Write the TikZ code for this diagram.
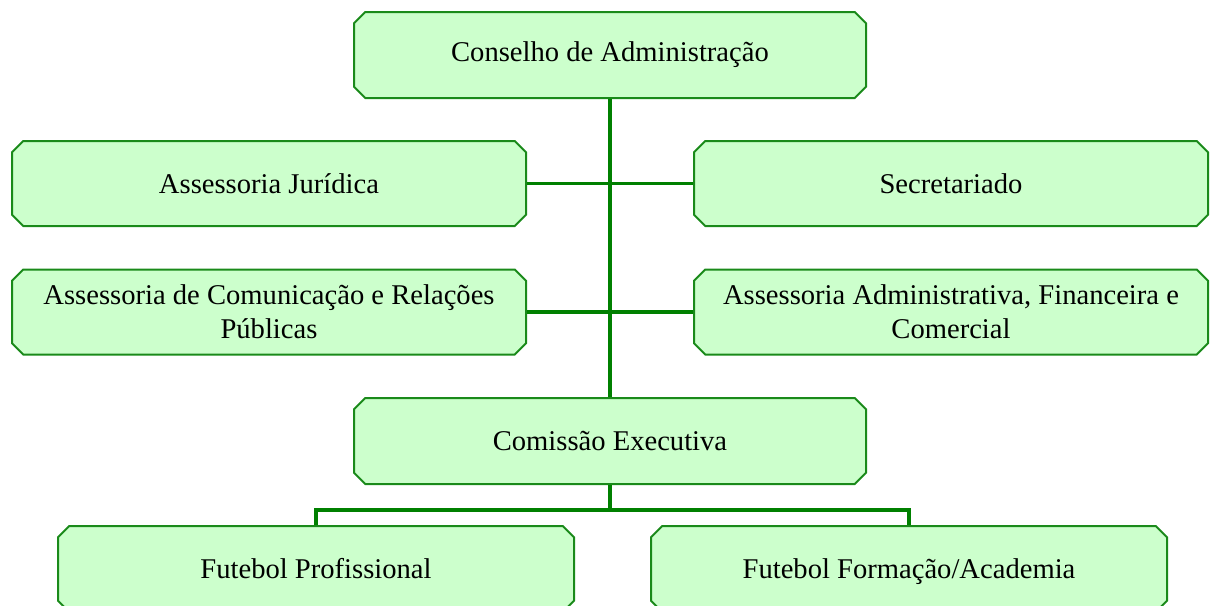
\documentclass[tikz,border=0pt]{standalone}
\usepackage{fontspec}
\setmainfont{Liberation Serif}
\usepackage{tikz}
\usetikzlibrary{shapes.misc}
\definecolor{color_box}{HTML}{ccffcc}
\definecolor{color_line}{HTML}{008000}
\definecolor{color_border}{HTML}{1a8a1a}

\begin{document}
\begin{tikzpicture}[x=0.5pt, y=-0.5pt, align=center]
  \tikzset{ % box and line styles
      base/.style = {chamfered rectangle, chamfered rectangle xsep=2.6pt, draw=color_border, line width=1pt, fill=color_box, minimum height=43pt, inner sep=2pt, font=\fontsize{14.3}{16.8}\selectfont},
      top/.style = {base, minimum width=256pt},
      side/.style = {base, minimum width=257pt, minimum height=42.5pt},
      unit/.style = {base, minimum width=258pt, text height=2.4ex, text depth=0.3ex},
      link/.style = {color_line, line width=1.7pt},
      trunk/.style = {color_line, line width=2.2pt},
  }
  \useasboundingbox (0,0) rectangle (1212,606);

  \node (conselho) [top] at (610,55) {Conselho de Administração};
  \node (juridica) [side] at (269,183.5) {Assessoria Jurídica};
  \node (secretariado) [side] at (951,183.5) {Secretariado};
  \node (comunicacao) [side] at (269,312) {Assessoria de Comunicação e Relações\\Públicas};
  \node (administrativa) [side] at (951,312) {Assessoria Administrativa, Financeira e\\Comercial};
  \node (executiva) [top] at (610,441) {Comissão Executiva};
  \node (profissional) [unit] at (316,569) {Futebol Profissional};
  \node (formacao) [unit] at (909,569) {Futebol Formação/Academia};

  \draw[link] (juridica.east) -- (secretariado.west);
  \draw[link] (comunicacao.east) -- (administrativa.west);
  \draw[trunk] (conselho.south) -- (executiva.north);
  \draw[link] (executiva.south) -- ++(0,25) -| (profissional.north);
  \draw[link] (executiva.south) -- ++(0,25) -| (formacao.north);
\end{tikzpicture}
\end{document}
